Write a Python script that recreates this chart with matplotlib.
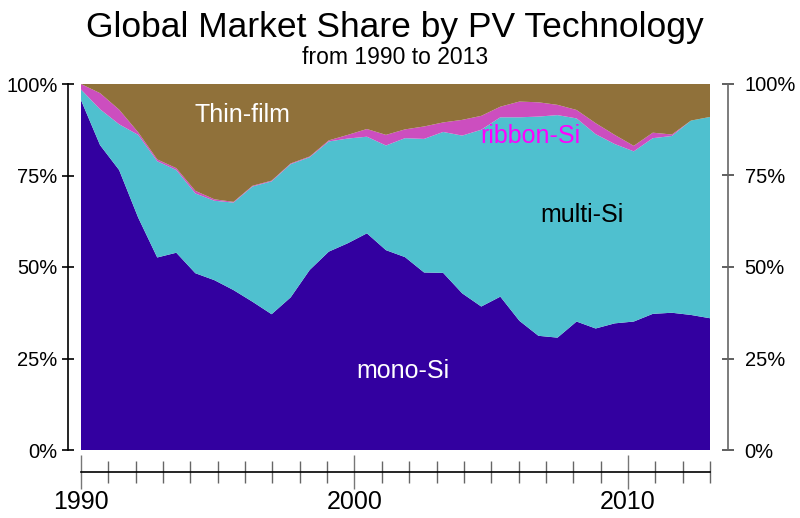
import numpy as np
import matplotlib
matplotlib.use("Agg")
import matplotlib.pyplot as plt
from matplotlib.ticker import MultipleLocator, FixedLocator

plt.rcParams['font.family'] = ['Liberation Sans', 'DejaVu Sans']

# Market share (%) per sample, 34 evenly spaced samples across 1990-2013
mono_si = [95.6, 83.3, 76.5, 63.5, 52.6, 53.9, 48.3, 46.4, 43.7, 40.5, 37.1, 41.7,
           49.2, 54.2, 56.5, 59.2, 54.6, 52.7, 48.5, 48.4, 42.8, 39.2, 41.9, 35.3,
           31.2, 30.7, 35.1, 33.2, 34.6, 35.1, 37.2, 37.5, 36.9, 36.0]
multi_si = [2.9, 9.8, 12.5, 22.6, 26.3, 22.6, 21.8, 21.7, 23.9, 31.5, 36.3, 36.4,
            30.8, 30.1, 28.6, 26.4, 28.6, 32.5, 36.5, 38.5, 43.1, 48.3, 49.0, 55.6,
            59.9, 60.8, 55.5, 53.1, 49.0, 46.5, 48.0, 48.3, 53.1, 55.0]
ribbon_si = [1.5, 4.4, 4.0, 0.7, 0.5, 0.5, 0.7, 0.4, 0.2, 0.2, 0.2, 0.2,
             0.2, 0.3, 1.0, 2.1, 2.9, 2.4, 3.4, 2.6, 4.3, 3.8, 2.9, 4.3,
             3.9, 2.8, 2.3, 3.0, 2.5, 1.5, 1.5, 0.4, 0.0, 0.0]
thin_film = [0.0, 2.5, 7.0, 13.2, 20.6, 23.0, 29.2, 31.5, 32.2, 27.8, 26.4, 21.7,
             19.8, 15.4, 13.9, 12.3, 13.9, 12.4, 11.6, 10.5, 9.8, 8.7, 6.2, 4.8,
             5.0, 5.7, 7.1, 10.7, 13.9, 16.9, 13.3, 13.8, 10.0, 9.0]

start_year, end_year = 1990, 2013
x = np.linspace(start_year, end_year, len(mono_si))

colors = ['#3300a0', '#4fc0cf', '#cc4ebf', '#90713a']

fig = plt.figure(figsize=(8, 5.18), dpi=100)
ax = fig.add_axes([81/800, 1 - 450/518, 629/800, 366/518])

ax.stackplot(x, mono_si, multi_si, ribbon_si, thin_film, colors=colors,
             linewidth=0, antialiased=True)
ax.set_xlim(start_year, end_year)
ax.set_ylim(0, 100)

# spines
ax.spines['top'].set_visible(False)
ax.spines['right'].set_visible(False)
ax.spines['left'].set_position(('outward', 9.4))
ax.spines['bottom'].set_position(('outward', 15.8))
ax.spines['left'].set_linewidth(1.2)
ax.spines['bottom'].set_linewidth(1.2)

# y ticks
ax.yaxis.set_major_locator(MultipleLocator(25))
ax.set_yticklabels([f"{int(v)}%" for v in ax.get_yticks()])
ax.tick_params(axis='y', direction='inout', length=8, width=1.2, pad=3.5,
               labelsize=14.5)

# x ticks
ax.xaxis.set_major_locator(FixedLocator([1990, 2000, 2010]))
ax.xaxis.set_minor_locator(MultipleLocator(1))
ax.tick_params(axis='x', which='major', direction='inout', length=24, width=1,
               color='#777777', pad=1, labelsize=18)
ax.tick_params(axis='x', which='minor', direction='inout', length=16.5, width=1,
               color='#666666')

# right axis
ax2 = ax.twinx()
ax2.set_ylim(0, 100)
for s in ['top', 'left', 'bottom']:
    ax2.spines[s].set_visible(False)
ax2.spines['right'].set_position(('outward', 13))
ax2.spines['right'].set_color('#666666')
ax2.spines['right'].set_linewidth(1.2)
ax2.yaxis.set_major_locator(MultipleLocator(25))
ax2.set_yticklabels([f"{int(v)}%" for v in ax2.get_yticks()])
ax2.tick_params(axis='y', direction='inout', length=8, width=1.2, color='#444444',
                pad=8, labelsize=14.5)

# series labels
ax.text(1995.89, 91.5, 'Thin-film', color='white', fontsize=18, ha='center', va='center')
ax.text(2006.42, 85.8, 'ribbon-Si', color='#ff00ff', fontsize=18, ha='center', va='center')
ax.text(2008.32, 64.2, 'multi-Si', color='black', fontsize=18, ha='center', va='center')
ax.text(2001.77, 21.6, 'mono-Si', color='white', fontsize=18, ha='center', va='center')

fig.text(0.4935, 1 - 27/518, 'Global Market Share by PV Technology',
         fontsize=25.5, ha='center', va='center')
fig.text(0.4935, 1 - 57/518, 'from 1990 to 2013', fontsize=16.5,
         ha='center', va='center')

fig.savefig('out.png', dpi=100)
